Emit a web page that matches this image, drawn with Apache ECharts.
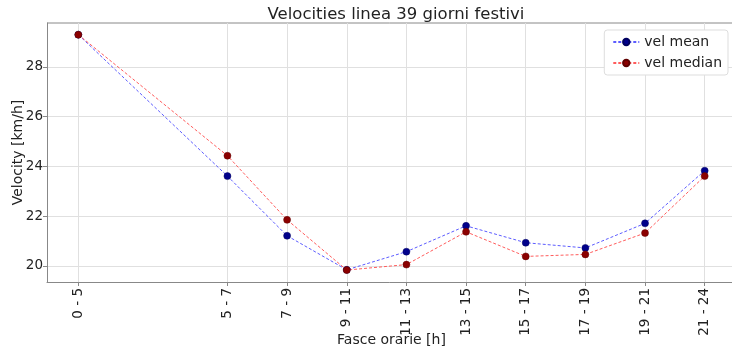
<!DOCTYPE html>
<html><head><meta charset="utf-8">
<script src="https://cdn.jsdelivr.net/npm/echarts@6/dist/echarts.min.js"></script>
<style>html,body{margin:0;padding:0;background:#fff}#c{width:732px;height:351px}</style>
</head><body><div id="c"></div>
<script>
var hourStart = [0, 5, 7, 9, 11, 13, 15, 17, 19, 21];
var tickLabels = ['0 - 5', '5 - 7', '7 - 9', '9 - 11', '11 - 13', '13 - 15', '15 - 17', '17 - 19', '19 - 21', '21 - 24'];
var velMean = [29.3, 23.61, 21.21, 19.84, 20.57, 21.61, 20.93, 20.72, 21.71, 23.83];
var velMedian = [29.3, 24.43, 21.85, 19.83, 20.05, 21.37, 20.38, 20.46, 21.32, 23.61];
var yTicks = [20, 22, 24, 26, 28];

var font = 'DejaVu Sans';
function pairs(vals){ return hourStart.map(function(h,i){ return [h, vals[i]]; }); }
var labelMap = {};
hourStart.forEach(function(h,i){ labelMap[h] = tickLabels[i]; });

var chart = echarts.init(document.getElementById('c'));
chart.setOption({
  animation: false,
  title: {
    text: 'Velocities linea 39 giorni festivi',
    left: 391, top: 1, textAlign: 'center',
    textStyle: {fontFamily: font, fontSize: 16.5, fontWeight: 'normal', color: '#222'}
  },
  legend: {
    right: 4, top: 30, orient: 'vertical', itemGap: 7,
    backgroundColor: '#fff', borderColor: '#ddd', borderWidth: 1, borderRadius: 3,
    padding: [5, 6, 5, 8], itemWidth: 26, itemHeight: 8,
    textStyle: {fontFamily: font, fontSize: 14, color: '#222'},
    data: ['vel mean', 'vel median']
  },
  grid: {left: 47, right: -4, top: 23, bottom: 69, outerBoundsMode: 'none', containLabel: false},
  xAxis: {
    type: 'value', min: -1.05, max: 22.05,
    name: 'Fasce orarie [h]', nameLocation: 'middle', nameGap: 51, nameMoveOverlap: false,
    nameTextStyle: {fontFamily: font, fontSize: 14, color: '#222'},
    axisLine: {onZero: false, lineStyle: {color: '#888'}},
    axisTick: {show: true, length: 4, lineStyle: {color: '#888'}, customValues: hourStart},
    axisLabel: {rotate: 90, fontFamily: font, fontSize: 13.5, color: '#222', margin: 6,
      customValues: hourStart, formatter: function(v){ return labelMap[v] || ''; }},
    splitLine: {show: true, lineStyle: {color: '#e0e0e0'}}
  },
  yAxis: {
    type: 'value', min: 19.35, max: 29.77,
    name: 'Velocity [km/h]', nameLocation: 'middle', nameGap: 22, nameMoveOverlap: false,
    nameTextStyle: {fontFamily: font, fontSize: 14, color: '#222'},
    axisLine: {show: true, onZero: false, lineStyle: {color: '#888'}},
    axisTick: {show: true, length: 4, lineStyle: {color: '#888'}, customValues: yTicks},
    axisLabel: {fontFamily: font, fontSize: 13.5, color: '#222', margin: 4, customValues: yTicks},
    splitLine: {show: true, lineStyle: {color: '#e0e0e0'}}
  },
  series: [
    {name: 'vel mean', type: 'line', data: pairs(velMean), symbol: 'circle', symbolSize: 7,
     lineStyle: {color: '#5c5cff', width: 1, type: [3, 2]},
     itemStyle: {color: '#00008b', borderColor: '#000060', borderWidth: 0.5}},
    {name: 'vel median', type: 'line', data: pairs(velMedian), symbol: 'circle', symbolSize: 7,
     lineStyle: {color: '#ff5c5c', width: 1, type: [3, 2]},
     itemStyle: {color: '#8b0000', borderColor: '#600000', borderWidth: 0.5}}
  ],
  graphic: [{type: 'line', shape: {x1: 47, y1: 23, x2: 732, y2: 23}, style: {stroke: '#888', lineWidth: 1}}]
});
</script></body></html>
